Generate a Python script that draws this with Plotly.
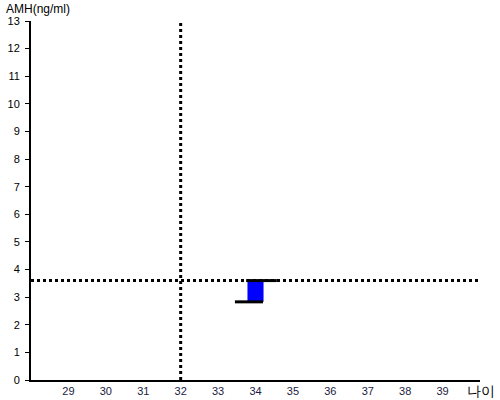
import plotly.graph_objects as go

# data
age = [34]
amh_low = [2.83]
amh_high = [3.6]
ref_age = 32
ref_amh = 3.6
x_ticks = [29, 30, 31, 32, 33, 34, 35, 36, 37, 38, 39]
y_ticks = list(range(0, 14))

fig = go.Figure()

# reference lines (dotted)
fig.add_trace(go.Scatter(x=[ref_age, ref_age], y=[0, 13], mode="lines",
                         line=dict(color="black", width=3, dash="dot"),
                         hoverinfo="skip", showlegend=False))
fig.add_trace(go.Scatter(x=[28, 40], y=[ref_amh, ref_amh], mode="lines",
                         line=dict(color="black", width=3, dash="dot"),
                         hoverinfo="skip", showlegend=False))

# blue range box
fig.add_trace(go.Bar(x=age, y=[h - l for h, l in zip(amh_high, amh_low)], base=amh_low,
                     width=0.43, marker=dict(color="#0000ff", line=dict(width=0)),
                     showlegend=False))

# bottom and top ticks of the box
for a, lo, hi in zip(age, amh_low, amh_high):
    fig.add_trace(go.Scatter(x=[a - 0.55, a + 0.2], y=[lo, lo], mode="lines",
                             line=dict(color="black", width=3), showlegend=False))
    fig.add_trace(go.Scatter(x=[a - 0.25, a + 0.57], y=[hi, hi], mode="lines",
                             line=dict(color="black", width=3), showlegend=False))

fig.update_layout(
    width=500, height=400,
    margin=dict(l=31, r=20, t=21, b=20),
    paper_bgcolor="white", plot_bgcolor="white",
    font=dict(family="Liberation Sans, Arial", size=12, color="black"),
    showlegend=False,
)
fig.update_xaxes(range=[28, 40], tickvals=x_ticks, showgrid=False, zeroline=False,
                 showline=True, linecolor="black", linewidth=2, ticks="", ticklen=0,
                 automargin=False, tickfont=dict(size=11, color="#1a1a40"))
fig.update_yaxes(range=[0, 13], tickvals=y_ticks, showgrid=False, zeroline=False,
                 showline=True, linecolor="black", linewidth=2, ticks="outside",
                 ticklen=4, tickcolor="black", tickwidth=1, automargin=False,
                 ticklabelstandoff=3, tickfont=dict(size=11))

fig.add_annotation(text="AMH(ng/ml)", xref="paper", yref="paper", x=0, y=1,
                   xshift=-27, yshift=12, xanchor="left", yanchor="middle",
                   showarrow=False, font=dict(size=12))
fig.add_annotation(text="나이", xref="paper", yref="paper", x=1, y=0,
                   xshift=17, yshift=-11, xanchor="right", yanchor="middle",
                   showarrow=False, font=dict(size=14))

fig.write_html("out.html", config={"displayModeBar": False},
               post_script="document.body.style.margin='0';")
